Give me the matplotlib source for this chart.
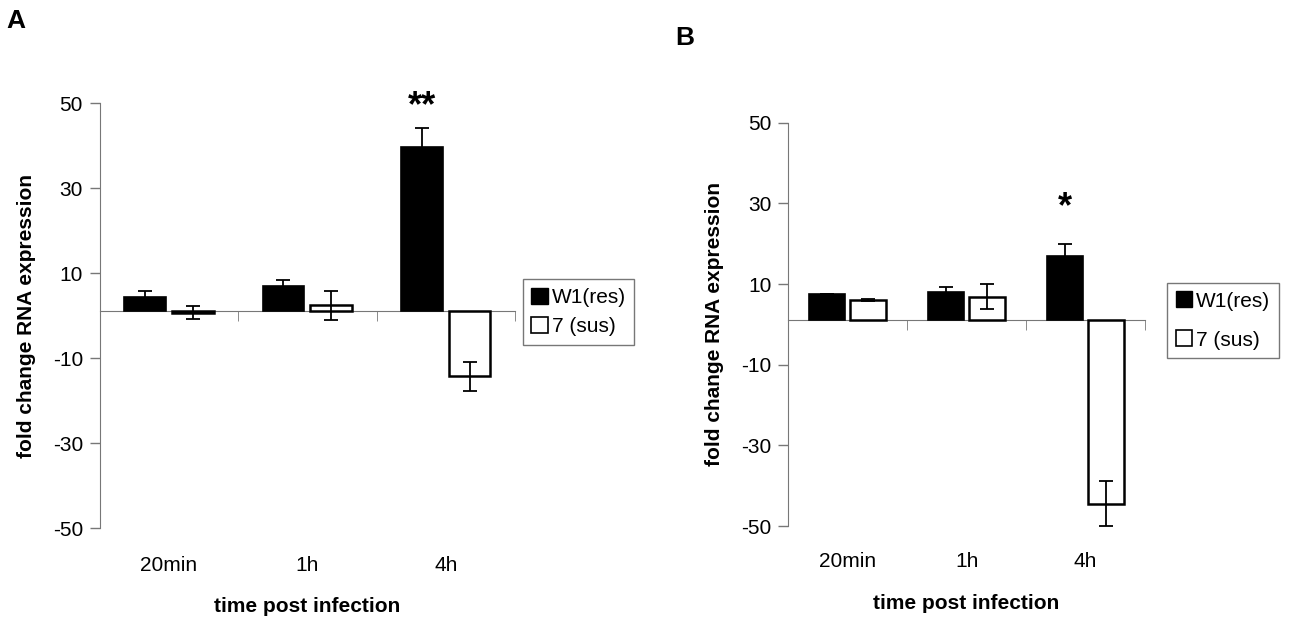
import matplotlib
matplotlib.use("Agg")
import matplotlib.pyplot as plt
import numpy as np
from matplotlib.patches import Patch

plt.rcParams['font.family'] = ['Liberation Sans', 'DejaVu Sans']
plt.rcParams['axes.unicode_minus'] = False

categories = ['20min', '1h', '4h']
series_names = ['W1(res)', '7 (sus)']

# panel A
a_res = [4.4, 7.0, 39.6]
a_res_err = [1.3, 1.3, 4.6]
a_sus = [0.7, 2.4, -14.3]
a_sus_err = [1.5, 3.5, 3.4]
a_stars = ['', '', '**']

# panel B
b_res = [7.5, 7.9, 16.9]
b_res_err = [0.0, 1.3, 2.9]
b_sus = [6.1, 6.8, -44.4]
b_sus_err = [0.3, 3.1, 5.6]
b_stars = ['', '', '*']

yticks = [50, 30, 10, -10, -30, -50]
base = 1.0   # value where the category axis crosses

fig = plt.figure(figsize=(12.94, 6.22), dpi=100)


def panel(rect, res, res_err, sus, sus_err, stars, legend_xy,
          dotted=False, spacing=0.5, star_gap=6):
    ax = fig.add_axes(rect)
    x = np.arange(len(categories))
    w = 0.30
    off = (w + 0.045) / 2
    res = np.array(res)
    sus = np.array(sus)
    ax.bar(x - off, res - base, w, bottom=base, color='black',
           edgecolor='black', linewidth=1.2, zorder=2)
    ax.bar(x + off, sus - base, w, bottom=base, color='white',
           edgecolor='black', linewidth=1.8, zorder=2)
    ax.errorbar(x - off, res, yerr=res_err, fmt='none', ecolor='black',
                elinewidth=1.3, capsize=5, capthick=1.3, zorder=3)
    ax.errorbar(x + off, sus, yerr=sus_err, fmt='none', ecolor='black',
                elinewidth=1.3, capsize=5, capthick=1.3, zorder=3)
    for i, s in enumerate(stars):
        if s:
            top = max(res[i] + res_err[i], base)
            ax.text(x[i] - off, top + star_gap, s, ha='center', va='center',
                    fontsize=26, fontweight='bold')

    ax.set_xlim(-0.5, len(categories) - 0.5)
    ax.set_ylim(-50, 50)
    ax.set_yticks(yticks)
    ax.tick_params(axis='y', direction='out', length=7, width=1,
                   color='#777777', labelsize=15, pad=5)
    for sp in ['top', 'right']:
        ax.spines[sp].set_visible(False)
    ax.spines['left'].set_color('#777777')
    if dotted:
        ax.spines['left'].set_linestyle((0, (1, 1)))
    ax.spines['bottom'].set_position(('data', base))
    ax.spines['bottom'].set_color('#777777')
    ax.spines['bottom'].set_zorder(1)
    ax.set_xticks(x)
    ax.set_xticklabels([])
    ax.set_xticks(np.arange(len(categories)) + 0.5, minor=True)
    ax.tick_params(axis='x', which='major', length=0)
    ax.tick_params(axis='x', which='minor', direction='out', length=7,
                   color='#777777')

    sec = ax.secondary_xaxis(-0.065)
    sec.set_xticks(x)
    sec.set_xticklabels(categories)
    sec.tick_params(length=0, labelsize=15, pad=0)
    sec.spines['bottom'].set_visible(False)
    sec.set_xlabel('time post infection', fontsize=15, fontweight='bold',
                   labelpad=16)
    ax.set_ylabel('fold change RNA expression', fontsize=15,
                  fontweight='bold', labelpad=12)

    h = [Patch(facecolor='black', edgecolor='black'),
         Patch(facecolor='white', edgecolor='black', linewidth=1.2)]
    leg = ax.legend(h, series_names, loc='upper left',
                    bbox_to_anchor=legend_xy,
                    bbox_transform=fig.transFigure, fontsize=15,
                    fancybox=False, framealpha=1, edgecolor='#777777',
                    handlelength=0.8, handleheight=0.8, handletextpad=0.2,
                    labelspacing=spacing, borderpad=0.4, borderaxespad=0)
    leg.get_frame().set_linewidth(1)
    return ax


panel([0.077, 0.151, 0.321, 0.683], a_res, a_res_err, a_sus, a_sus_err,
      a_stars, (0.404, 0.551), star_gap=5)
panel([0.609, 0.154, 0.276, 0.649], b_res, b_res_err, b_sus, b_sus_err,
      b_stars, (0.902, 0.545), dotted=True, spacing=0.95, star_gap=9)

fig.text(0.005, 0.985, 'A', fontsize=19, fontweight='bold', va='top')
fig.text(0.522, 0.958, 'B', fontsize=19, fontweight='bold', va='top')

fig.savefig('out.png', dpi=100)
